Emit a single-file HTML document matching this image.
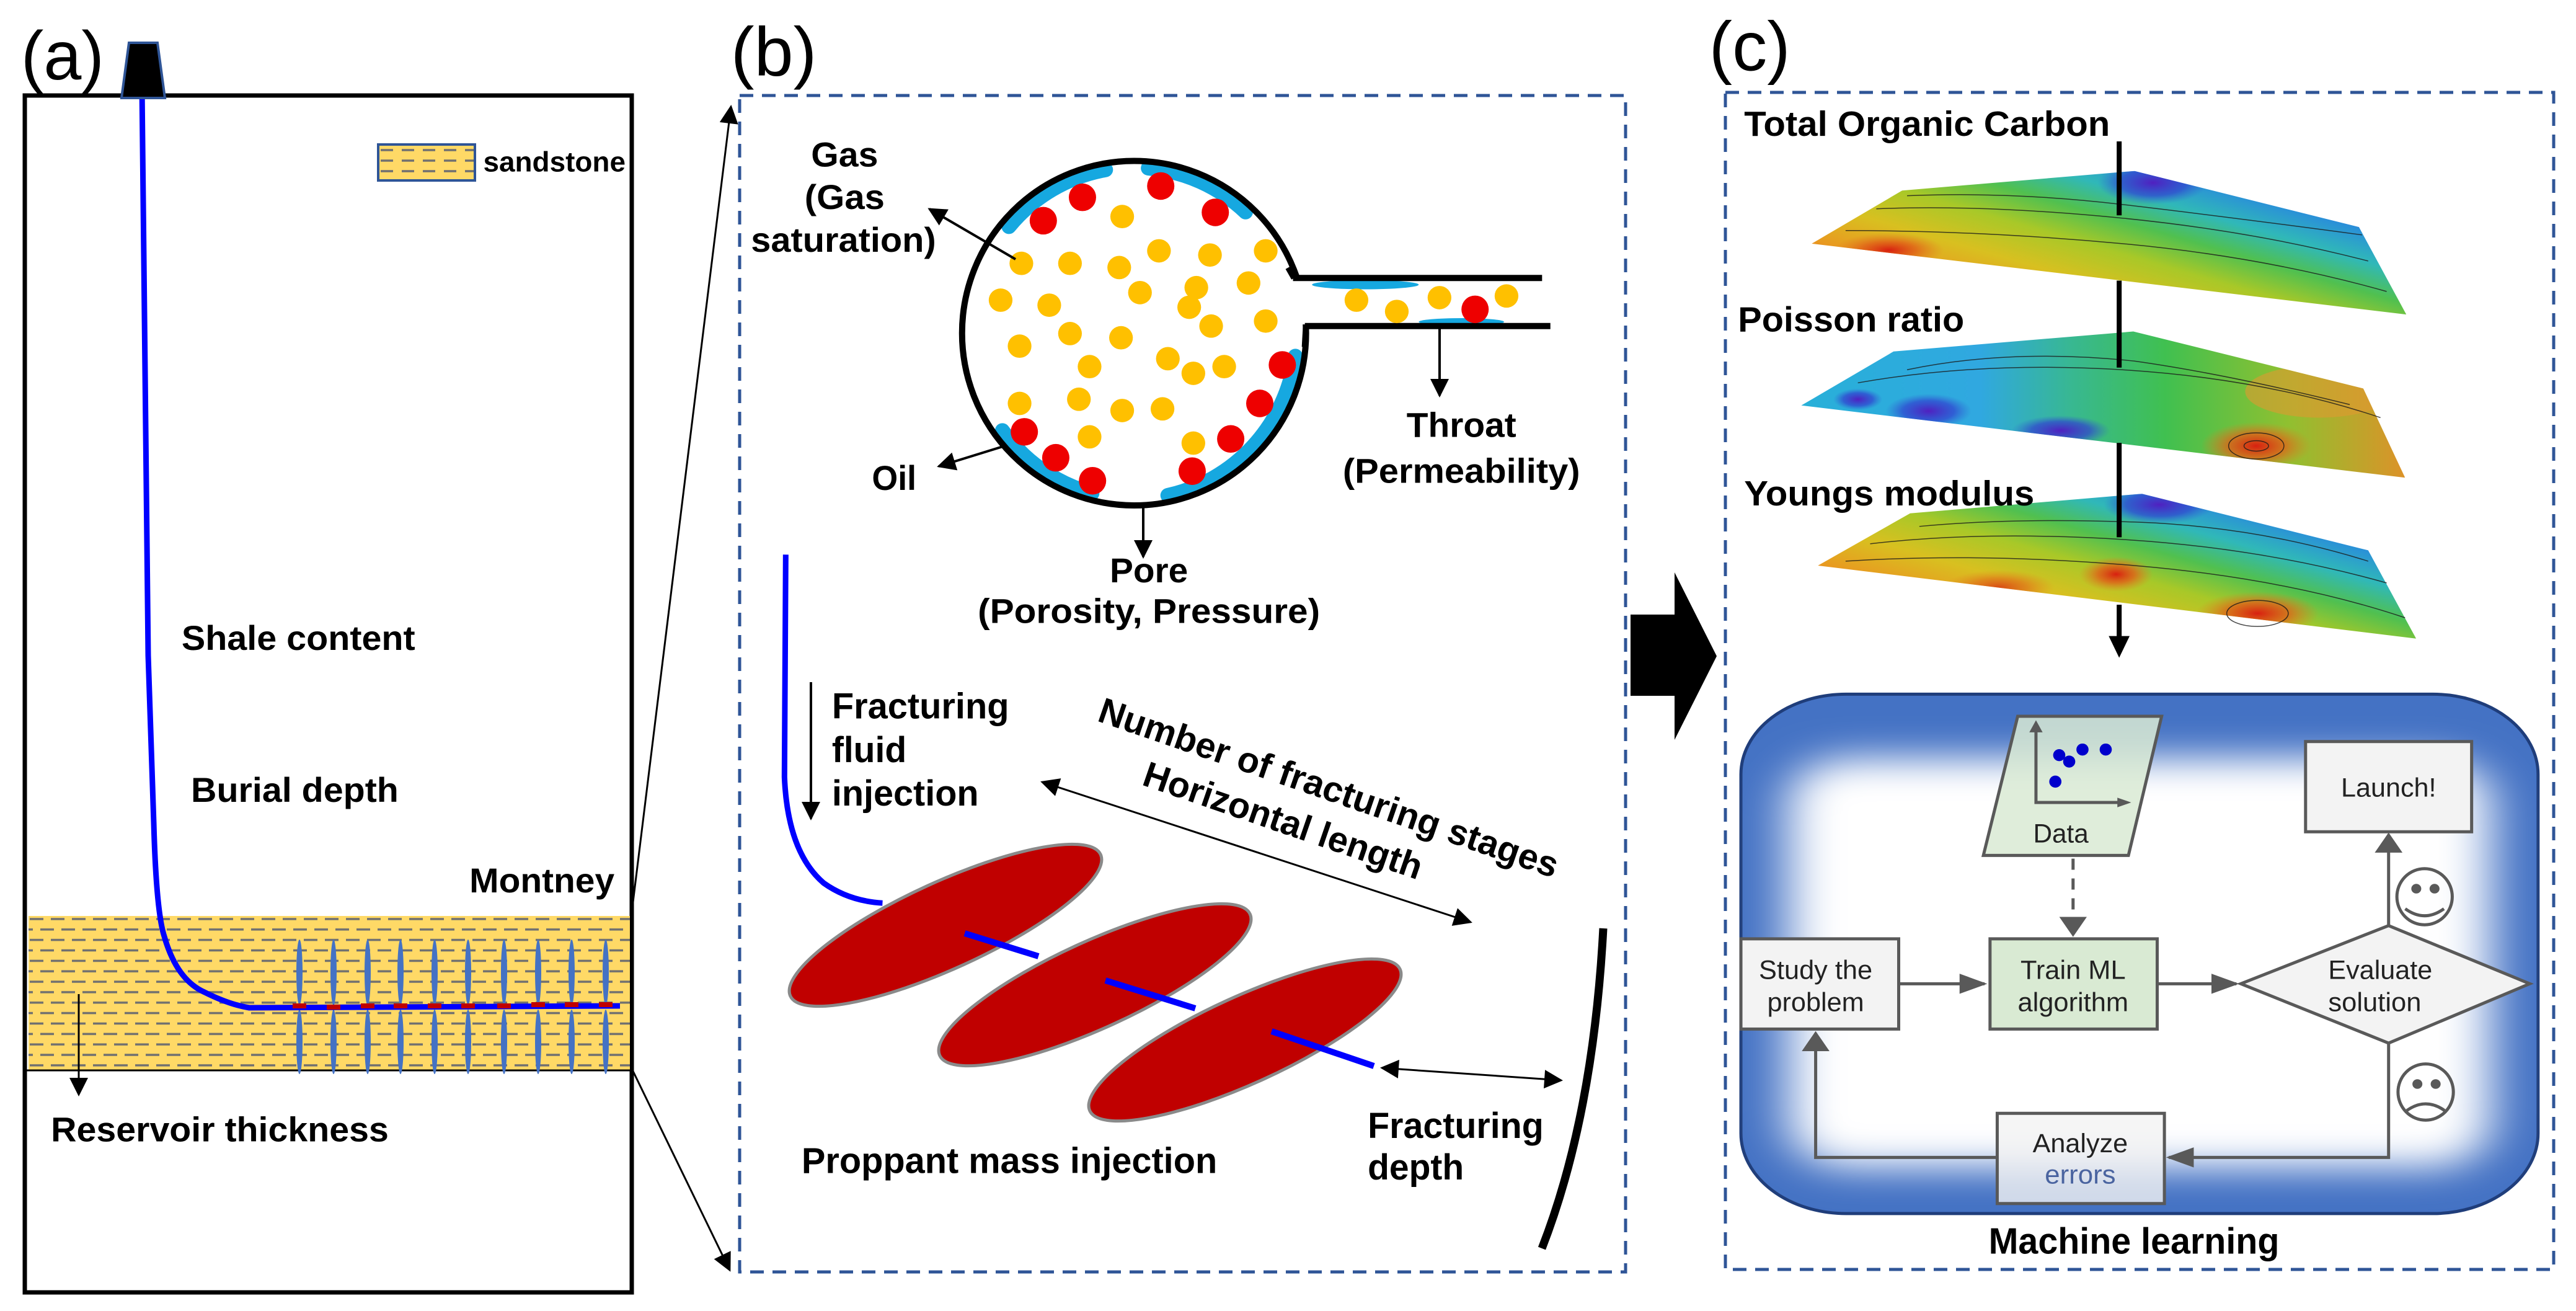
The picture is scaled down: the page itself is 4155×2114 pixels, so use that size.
<!DOCTYPE html>
<html><head><meta charset="utf-8">
<style>
html,body{margin:0;padding:0;background:#fff;}
svg{display:block;}
text{font-family:"Liberation Sans",Arial,sans-serif;}
.b{font-weight:bold;}
</style></head>
<body>
<svg xmlns="http://www.w3.org/2000/svg" width="4155" height="2114" viewBox="0 0 4155 2114">
<defs>
  <marker id="ah" viewBox="0 0 10 10" refX="9" refY="5" markerWidth="42" markerHeight="30" markerUnits="userSpaceOnUse" orient="auto-start-reverse">
    <path d="M0,0 L10,5 L0,10 z" fill="#000"/>
  </marker>
  <marker id="ag" viewBox="0 0 10 10" refX="9" refY="5" markerWidth="50" markerHeight="50" markerUnits="userSpaceOnUse" orient="auto">
    <path d="M0,0 L10,5 L0,10 z" fill="#595959"/>
  </marker>
  <pattern id="sand" patternUnits="userSpaceOnUse" width="34" height="33.7" x="46" y="1477">
    <rect width="34" height="33.7" fill="#ffd966"/>
    <line x1="2" y1="5" x2="24" y2="5" stroke="#707070" stroke-width="3.5"/>
    <line x1="19" y1="21.8" x2="34" y2="21.8" stroke="#707070" stroke-width="3.5"/>
    <line x1="0" y1="21.8" x2="7" y2="21.8" stroke="#707070" stroke-width="3.5"/>
  </pattern>
  <pattern id="sand2" patternUnits="userSpaceOnUse" width="34" height="17" x="612" y="236">
    <rect width="34" height="17" fill="#ffd966"/>
    <line x1="2" y1="6" x2="22" y2="6" stroke="#707070" stroke-width="3.5"/>
  </pattern>
  <linearGradient id="g1" x1="0.1" y1="0.8" x2="0.9" y2="0.1">
    <stop offset="0" stop-color="#e05018"/>
    <stop offset="0.15" stop-color="#e89a20"/>
    <stop offset="0.3" stop-color="#d8c020"/>
    <stop offset="0.45" stop-color="#a8c828"/>
    <stop offset="0.58" stop-color="#50c050"/>
    <stop offset="0.7" stop-color="#30b8b8"/>
    <stop offset="0.82" stop-color="#2a90d8"/>
    <stop offset="0.92" stop-color="#3a50c8"/>
    <stop offset="1" stop-color="#7020b0"/>
  </linearGradient>
  <linearGradient id="g2" x1="0" y1="0.5" x2="1" y2="0.5">
    <stop offset="0" stop-color="#28b0d8"/>
    <stop offset="0.3" stop-color="#30a8e0"/>
    <stop offset="0.45" stop-color="#38b890"/>
    <stop offset="0.6" stop-color="#40c050"/>
    <stop offset="0.8" stop-color="#90c030"/>
    <stop offset="1" stop-color="#e09028"/>
  </linearGradient>
  <radialGradient id="hot"><stop offset="0" stop-color="#d82010"/><stop offset="0.5" stop-color="#e06018" stop-opacity="0.8"/><stop offset="1" stop-color="#e08020" stop-opacity="0"/></radialGradient>
  <radialGradient id="cold"><stop offset="0" stop-color="#5020c0"/><stop offset="0.6" stop-color="#3040d0" stop-opacity="0.7"/><stop offset="1" stop-color="#3060d0" stop-opacity="0"/></radialGradient>
  <filter id="blur" x="-20%" y="-20%" width="140%" height="140%"><feGaussianBlur stdDeviation="45"/></filter>
</defs>
<rect width="4155" height="2114" fill="#fff"/>

<!-- ===== Panel (a) real coords ===== -->
<rect x="40" y="154" width="979" height="1930" fill="none" stroke="#000" stroke-width="7"/>
<rect x="46" y="1477" width="970" height="249" fill="url(#sand)"/>
<line x1="40" y1="1726" x2="1019" y2="1726" stroke="#000" stroke-width="3"/>
<g fill="#4472c4">
  <ellipse cx="483" cy="1568" rx="5" ry="53"/><ellipse cx="483" cy="1680" rx="5" ry="52"/>
  <ellipse cx="538" cy="1568" rx="5" ry="53"/><ellipse cx="538" cy="1680" rx="5" ry="52"/>
  <ellipse cx="593" cy="1568" rx="5" ry="53"/><ellipse cx="593" cy="1680" rx="5" ry="52"/>
  <ellipse cx="646" cy="1568" rx="5" ry="53"/><ellipse cx="646" cy="1680" rx="5" ry="52"/>
  <ellipse cx="701" cy="1568" rx="5" ry="53"/><ellipse cx="701" cy="1680" rx="5" ry="52"/>
  <ellipse cx="755" cy="1568" rx="5" ry="53"/><ellipse cx="755" cy="1680" rx="5" ry="52"/>
  <ellipse cx="813" cy="1568" rx="5" ry="53"/><ellipse cx="813" cy="1680" rx="5" ry="52"/>
  <ellipse cx="868" cy="1568" rx="5" ry="53"/><ellipse cx="868" cy="1680" rx="5" ry="52"/>
  <ellipse cx="922" cy="1568" rx="5" ry="53"/><ellipse cx="922" cy="1680" rx="5" ry="52"/>
  <ellipse cx="977" cy="1568" rx="5" ry="53"/><ellipse cx="977" cy="1680" rx="5" ry="52"/>
</g>
<path d="M229,142 L239,1057 L248,1327 Q252,1470 265,1510 Q285,1580 330,1600 Q370,1620 402,1625 L1000,1622" fill="none" stroke="#0000ff" stroke-width="9"/>
<g fill="#c00000">
  <rect x="472" y="1618" width="22" height="8"/><rect x="527" y="1620" width="22" height="8"/>
  <rect x="582" y="1618" width="22" height="8"/><rect x="635" y="1618" width="22" height="8"/>
  <rect x="690" y="1618" width="22" height="8"/><rect x="744" y="1618" width="22" height="8"/>
  <rect x="802" y="1618" width="22" height="8"/><rect x="857" y="1616" width="22" height="8"/>
  <rect x="911" y="1616" width="22" height="8"/><rect x="966" y="1616" width="22" height="8"/>
</g>
<polygon points="208,69 254,69 266,158 196,158" fill="#000" stroke="#2f5597" stroke-width="4"/>
<rect x="610" y="233" width="156" height="58" fill="url(#sand2)" stroke="#2f5597" stroke-width="4"/>
<line x1="127" y1="1603" x2="127" y2="1765" stroke="#000" stroke-width="3" marker-end="url(#ah)"/>
<line x1="1018" y1="1479" x2="1179" y2="172" stroke="#000" stroke-width="3" marker-end="url(#ah)"/>
<line x1="1018" y1="1721" x2="1177" y2="2048" stroke="#000" stroke-width="3" marker-end="url(#ah)"/>

<g transform="scale(0.8929,0.6741)">
  <text x="38" y="190" font-size="165" textLength="150" lengthAdjust="spacingAndGlyphs">(a)</text>
  <text class="b" x="873" y="410" font-size="67" textLength="257" lengthAdjust="spacingAndGlyphs">sandstone</text>
  <text class="b" x="328" y="1555" font-size="83" textLength="422" lengthAdjust="spacingAndGlyphs">Shale content</text>
</g>
<g transform="translate(0,1057) scale(0.8929,0.6741)">
  <text class="b" x="345" y="350" font-size="83" textLength="375" lengthAdjust="spacingAndGlyphs">Burial depth</text>
  <text class="b" x="848" y="567" font-size="83" textLength="262" lengthAdjust="spacingAndGlyphs">Montney</text>
  <text class="b" x="92" y="1162" font-size="83" textLength="610" lengthAdjust="spacingAndGlyphs">Reservoir thickness</text>
</g>

<!-- ===== Panel (b) ===== -->
<rect x="1193" y="154" width="1429" height="1897" fill="none" stroke="#2f5597" stroke-width="5" stroke-dasharray="22,14"/>
<g transform="translate(1150,0) scale(0.9566,0.6741)">
  <text x="30" y="180" font-size="165" textLength="145" lengthAdjust="spacingAndGlyphs">(b)</text>
  <g fill="none" stroke="#16a8e0" stroke-width="24" stroke-linecap="round">
    <path d="M499,542 A275,397 0 0 1 662,406" vector-effect="non-scaling-stroke"/>
    <path d="M734,402 A275,397 0 0 1 898,507" vector-effect="non-scaling-stroke"/>
    <path d="M639,1180 A275,397 0 0 1 488,1030" vector-effect="non-scaling-stroke"/>
    <path d="M982,852 A275,397 0 0 1 767,1185" vector-effect="non-scaling-stroke"/>
  </g>
  <ellipse cx="1100" cy="681" rx="90" ry="11" fill="#16a8e0"/>
  <ellipse cx="1262" cy="770" rx="72" ry="9" fill="#16a8e0"/>
  <ellipse cx="710" cy="797" rx="290" ry="412" fill="none" stroke="#000" stroke-width="10" vector-effect="non-scaling-stroke"/>
  <rect x="970" y="672" width="40" height="104" fill="#fff"/>
  <g stroke="#000" stroke-width="10">
    <line x1="978" y1="665" x2="1398" y2="665" vector-effect="non-scaling-stroke"/>
    <line x1="998" y1="780" x2="1412" y2="780" vector-effect="non-scaling-stroke"/>
    <line x1="980" y1="665" x2="970" y2="640" vector-effect="non-scaling-stroke"/>
    <line x1="1000" y1="780" x2="998" y2="830" vector-effect="non-scaling-stroke"/>
  </g>
  <g fill="#ffc000">
    <ellipse cx="690" cy="518" rx="20" ry="28"/><ellipse cx="520" cy="630" rx="20" ry="28"/>
    <ellipse cx="602" cy="630" rx="20" ry="28"/><ellipse cx="685" cy="640" rx="20" ry="28"/>
    <ellipse cx="752" cy="600" rx="20" ry="28"/><ellipse cx="838" cy="610" rx="20" ry="28"/>
    <ellipse cx="932" cy="600" rx="20" ry="28"/><ellipse cx="485" cy="718" rx="20" ry="28"/>
    <ellipse cx="567" cy="730" rx="20" ry="28"/><ellipse cx="720" cy="700" rx="20" ry="28"/>
    <ellipse cx="815" cy="688" rx="20" ry="28"/><ellipse cx="803" cy="735" rx="20" ry="28"/>
    <ellipse cx="903" cy="677" rx="20" ry="28"/><ellipse cx="517" cy="828" rx="20" ry="28"/>
    <ellipse cx="602" cy="798" rx="20" ry="28"/><ellipse cx="688" cy="808" rx="20" ry="28"/>
    <ellipse cx="840" cy="780" rx="20" ry="28"/><ellipse cx="932" cy="768" rx="20" ry="28"/>
    <ellipse cx="635" cy="877" rx="20" ry="28"/><ellipse cx="767" cy="858" rx="20" ry="28"/>
    <ellipse cx="810" cy="893" rx="20" ry="28"/><ellipse cx="862" cy="877" rx="20" ry="28"/>
    <ellipse cx="517" cy="965" rx="20" ry="28"/><ellipse cx="617" cy="955" rx="20" ry="28"/>
    <ellipse cx="690" cy="982" rx="20" ry="28"/><ellipse cx="758" cy="978" rx="20" ry="28"/>
    <ellipse cx="635" cy="1045" rx="20" ry="28"/><ellipse cx="810" cy="1060" rx="20" ry="28"/>
    <ellipse cx="1085" cy="718" rx="20" ry="28"/><ellipse cx="1153" cy="745" rx="20" ry="28"/>
    <ellipse cx="1225" cy="712" rx="20" ry="28"/><ellipse cx="1338" cy="708" rx="20" ry="28"/>
  </g>
  <g fill="#ee0000">
    <ellipse cx="623" cy="472" rx="23" ry="33"/><ellipse cx="755" cy="445" rx="23" ry="33"/>
    <ellipse cx="557" cy="528" rx="23" ry="33"/><ellipse cx="847" cy="508" rx="23" ry="33"/>
    <ellipse cx="960" cy="873" rx="23" ry="33"/><ellipse cx="922" cy="965" rx="23" ry="33"/>
    <ellipse cx="525" cy="1033" rx="23" ry="33"/><ellipse cx="873" cy="1050" rx="23" ry="33"/>
    <ellipse cx="578" cy="1095" rx="23" ry="33"/><ellipse cx="640" cy="1150" rx="23" ry="33"/>
    <ellipse cx="808" cy="1127" rx="23" ry="33"/><ellipse cx="1285" cy="740" rx="23" ry="33"/>
  </g>
  <text class="b" x="222" y="398" font-size="83" text-anchor="middle" textLength="113" lengthAdjust="spacingAndGlyphs">Gas</text>
  <text class="b" x="222" y="500" font-size="83" text-anchor="middle" textLength="135" lengthAdjust="spacingAndGlyphs">(Gas</text>
  <text class="b" x="220" y="602" font-size="83" text-anchor="middle" textLength="312" lengthAdjust="spacingAndGlyphs">saturation)</text>
  <text class="b" x="268" y="1172" font-size="83" textLength="75" lengthAdjust="spacingAndGlyphs">Oil</text>
  <text class="b" x="1262" y="1045" font-size="83" text-anchor="middle" textLength="185" lengthAdjust="spacingAndGlyphs">Throat</text>
  <text class="b" x="1262" y="1155" font-size="83" text-anchor="middle" textLength="400" lengthAdjust="spacingAndGlyphs">(Permeability)</text>
  <text class="b" x="735" y="1393" font-size="83" text-anchor="middle" textLength="132" lengthAdjust="spacingAndGlyphs">Pore</text>
  <text class="b" x="735" y="1490" font-size="83" text-anchor="middle" textLength="577" lengthAdjust="spacingAndGlyphs">(Porosity, Pressure)</text>
</g>
<line x1="1638" y1="418" x2="1499" y2="337" stroke="#000" stroke-width="4" marker-end="url(#ah)"/>
<line x1="1624" y1="718" x2="1514" y2="752" stroke="#000" stroke-width="4" marker-end="url(#ah)"/>
<line x1="1844" y1="816" x2="1844" y2="898" stroke="#000" stroke-width="4" marker-end="url(#ah)"/>
<line x1="2322" y1="526" x2="2322" y2="638" stroke="#000" stroke-width="4" marker-end="url(#ah)"/>

<g transform="translate(1150,850) scale(1.0204,0.8061)">
  <path d="M115,55 L113,500 Q118,650 175,712 Q215,748 268,752" fill="none" stroke="#0000ff" stroke-width="9" vector-effect="non-scaling-stroke"/>
  <text class="b" x="188" y="383" font-size="72" textLength="280" lengthAdjust="spacingAndGlyphs">Fracturing</text>
  <text class="b" x="188" y="470" font-size="72" textLength="118" lengthAdjust="spacingAndGlyphs">fluid</text>
  <text class="b" x="188" y="557" font-size="72" textLength="232" lengthAdjust="spacingAndGlyphs">injection</text>
  <text class="b" x="140" y="1292" font-size="72" textLength="657" lengthAdjust="spacingAndGlyphs">Proppant mass injection</text>
  <text class="b" x="1035" y="1222" font-size="72" textLength="278" lengthAdjust="spacingAndGlyphs">Fracturing</text>
  <text class="b" x="1035" y="1305" font-size="72" textLength="152" lengthAdjust="spacingAndGlyphs">depth</text>
</g>
<g fill="#c00000" stroke="#8a8a8a" stroke-width="5">
  <ellipse cx="1525" cy="1492" rx="275" ry="70" transform="rotate(-24.5 1525 1492)"/>
  <ellipse cx="1766" cy="1588" rx="275" ry="70" transform="rotate(-24.5 1766 1588)"/>
  <ellipse cx="2008" cy="1677" rx="275" ry="70" transform="rotate(-24.5 2008 1677)"/>
</g>
<g stroke="#0000ff" stroke-width="10">
  <line x1="1556" y1="1505" x2="1675" y2="1542"/>
  <line x1="1783" y1="1581" x2="1928" y2="1626"/>
  <line x1="2051" y1="1663" x2="2216" y2="1719"/>
</g>
<line x1="1308" y1="1100" x2="1308" y2="1320" stroke="#000" stroke-width="4" marker-end="url(#ah)"/>
<line x1="1681" y1="1261" x2="2372" y2="1487" stroke="#000" stroke-width="3" marker-start="url(#ah)" marker-end="url(#ah)"/>
<line x1="2229" y1="1722" x2="2518" y2="1742" stroke="#000" stroke-width="3" marker-start="url(#ah)" marker-end="url(#ah)"/>
<path d="M2586,1497 Q2570,1800 2487,2013" fill="none" stroke="#000" stroke-width="13"/>
<text class="b" x="1768" y="1162" font-size="58" textLength="780" lengthAdjust="spacingAndGlyphs" transform="rotate(19 1768 1162)">Number of fracturing stages</text>
<text class="b" x="1840" y="1265" font-size="58" textLength="472" lengthAdjust="spacingAndGlyphs" transform="rotate(19 1840 1265)">Horizontal length</text>

<polygon points="2630,991 2701,991 2701,923 2769,1058 2701,1193 2701,1122 2630,1122" fill="#000"/>

<!-- ===== Panel (c) ===== -->
<rect x="2783" y="149" width="1336" height="1898" fill="none" stroke="#2f5597" stroke-width="5" stroke-dasharray="22,14"/>
<g transform="translate(2600,0) scale(0.9917,0.7015)">
  <text x="158" y="162" font-size="160" textLength="132" lengthAdjust="spacingAndGlyphs">(c)</text>
  <clipPath id="c1"><polygon points="325,560 472,438 850,393 1215,522 1292,723"/></clipPath>
  <clipPath id="c2"><polygon points="308,932 458,808 848,762 1222,893 1290,1098"/></clipPath>
  <clipPath id="c3"><polygon points="335,1300 485,1180 862,1135 1230,1265 1308,1468"/></clipPath>
  <g clip-path="url(#c1)">
    <rect x="300" y="380" width="1000" height="360" fill="url(#g1)"/>
    <ellipse cx="450" cy="575" rx="90" ry="40" fill="url(#hot)"/>
    <ellipse cx="880" cy="420" rx="90" ry="50" fill="url(#cold)"/>
  </g>
  <g clip-path="url(#c2)">
    <rect x="300" y="750" width="1000" height="360" fill="url(#g2)"/>
    <ellipse cx="400" cy="918" rx="40" ry="25" fill="url(#cold)"/>
    <ellipse cx="515" cy="945" rx="70" ry="40" fill="url(#cold)"/>
    <ellipse cx="730" cy="990" rx="80" ry="35" fill="url(#cold)"/>
    <ellipse cx="1048" cy="1025" rx="90" ry="55" fill="url(#hot)"/>
    <ellipse cx="1150" cy="900" rx="120" ry="60" fill="#e09a30" opacity="0.6"/>
  </g>
  <g clip-path="url(#c3)">
    <rect x="300" y="1120" width="1020" height="360" fill="url(#g1)"/>
    <ellipse cx="820" cy="1320" rx="60" ry="40" fill="url(#hot)"/>
    <ellipse cx="1050" cy="1410" rx="100" ry="50" fill="url(#hot)"/>
    <ellipse cx="630" cy="1350" rx="90" ry="40" fill="url(#hot)" opacity="0.7"/>
    <ellipse cx="890" cy="1160" rx="90" ry="45" fill="url(#cold)"/>
  </g>
  <g fill="none" stroke="#1a1a1a" stroke-width="1.5" opacity="0.8">
    <path d="M430,480 Q600,470 820,500 T1230,600" vector-effect="non-scaling-stroke"/>
    <path d="M380,530 Q600,530 830,560 T1260,670" vector-effect="non-scaling-stroke"/>
    <path d="M480,450 Q650,440 830,470 T1220,540" vector-effect="non-scaling-stroke"/>
    <path d="M400,880 Q600,830 830,850 T1250,960" vector-effect="non-scaling-stroke"/>
    <path d="M480,850 Q650,800 850,830 Q1000,860 1200,930" vector-effect="non-scaling-stroke"/>
    <ellipse cx="1048" cy="1025" rx="45" ry="30" vector-effect="non-scaling-stroke"/>
    <ellipse cx="1048" cy="1025" rx="20" ry="12" vector-effect="non-scaling-stroke"/>
    <path d="M420,1250 Q600,1220 830,1240 T1260,1340" vector-effect="non-scaling-stroke"/>
    <path d="M380,1290 Q600,1270 850,1300 T1290,1420" vector-effect="non-scaling-stroke"/>
    <path d="M500,1210 Q650,1190 850,1200 T1230,1290" vector-effect="non-scaling-stroke"/>
    <ellipse cx="1050" cy="1410" rx="50" ry="30" vector-effect="non-scaling-stroke"/>
  </g>
  <g stroke="#000" stroke-width="8">
    <line x1="825" y1="325" x2="825" y2="495" vector-effect="non-scaling-stroke"/>
    <line x1="825" y1="645" x2="825" y2="845" vector-effect="non-scaling-stroke"/>
    <line x1="825" y1="1018" x2="825" y2="1235" vector-effect="non-scaling-stroke"/>
    <line x1="825" y1="1390" x2="825" y2="1470" vector-effect="non-scaling-stroke"/>
  </g>
  <polygon points="808,1462 842,1462 825,1512" fill="#000"/>
  <text class="b" x="215" y="312" font-size="81" textLength="595" lengthAdjust="spacingAndGlyphs">Total Organic Carbon</text>
  <text class="b" x="205" y="762" font-size="81" textLength="368" lengthAdjust="spacingAndGlyphs">Poisson ratio</text>
  <text class="b" x="215" y="1162" font-size="81" textLength="472" lengthAdjust="spacingAndGlyphs">Youngs modulus</text>
</g>

<g transform="translate(2750,1100) scale(0.8929,0.6467)">
  <rect x="65" y="30" width="1440" height="1295" rx="190" ry="200" fill="#4472c4" stroke="#1f3d7a" stroke-width="5" vector-effect="non-scaling-stroke"/>
  <rect x="150" y="190" width="1270" height="1020" rx="110" ry="110" fill="#fff" filter="url(#blur)"/>
  <g stroke="#595959" stroke-width="5">
    <polygon points="565,85 825,85 765,432 503,432" fill="#d9ead3" fill-opacity="0.85" vector-effect="non-scaling-stroke"/>
    <rect x="65" y="640" width="285" height="225" fill="#f3f3f3" vector-effect="non-scaling-stroke"/>
    <rect x="515" y="640" width="302" height="225" fill="#d9ead3" vector-effect="non-scaling-stroke"/>
    <polygon points="968,752 1235,607 1490,752 1235,900" fill="#f3f3f3" vector-effect="non-scaling-stroke"/>
    <rect x="1085" y="148" width="300" height="225" fill="#f3f3f3" vector-effect="non-scaling-stroke"/>
    <rect x="528" y="1075" width="302" height="225" fill="#f3f3f3" fill-opacity="0.8" vector-effect="non-scaling-stroke"/>
    <line x1="350" y1="752" x2="505" y2="752" marker-end="url(#ag)" vector-effect="non-scaling-stroke"/>
    <line x1="817" y1="752" x2="960" y2="752" marker-end="url(#ag)" vector-effect="non-scaling-stroke"/>
    <line x1="1235" y1="607" x2="1235" y2="380" marker-end="url(#ag)" vector-effect="non-scaling-stroke"/>
    <polyline points="1235,900 1235,1185 838,1185" fill="none" marker-end="url(#ag)" vector-effect="non-scaling-stroke"/>
    <polyline points="528,1185 200,1185 200,875" fill="none" marker-end="url(#ag)" vector-effect="non-scaling-stroke"/>
    <line x1="665" y1="440" x2="665" y2="630" stroke-dasharray="18,14" marker-end="url(#ag)" vector-effect="non-scaling-stroke"/>
    <polyline points="598,115 598,300 750,300" fill="none" vector-effect="non-scaling-stroke"/>
    <ellipse cx="1300" cy="535" rx="50" ry="70" fill="none" vector-effect="non-scaling-stroke"/>
    <ellipse cx="1302" cy="1022" rx="50" ry="70" fill="none" vector-effect="non-scaling-stroke"/>
    <path d="M1265,565 Q1300,600 1335,565" fill="none" vector-effect="non-scaling-stroke"/>
    <path d="M1268,1068 Q1302,1035 1336,1068" fill="none" vector-effect="non-scaling-stroke"/>
  </g>
  <polygon points="586,125 610,125 598,95" fill="#595959"/>
  <polygon points="745,288 745,312 770,300" fill="#595959"/>
  <g fill="#595959">
    <ellipse cx="1285" cy="515" rx="9" ry="12"/><ellipse cx="1318" cy="515" rx="9" ry="12"/>
    <ellipse cx="1287" cy="1002" rx="9" ry="12"/><ellipse cx="1320" cy="1002" rx="9" ry="12"/>
  </g>
  <g fill="#0000cc">
    <ellipse cx="640" cy="182" rx="11" ry="15"/><ellipse cx="658" cy="198" rx="11" ry="15"/>
    <ellipse cx="682" cy="168" rx="11" ry="15"/><ellipse cx="724" cy="168" rx="11" ry="15"/>
    <ellipse cx="633" cy="248" rx="11" ry="15"/>
  </g>
  <g font-size="66" fill="#222" text-anchor="middle">
    <text x="643" y="400" textLength="100" lengthAdjust="spacingAndGlyphs">Data</text>
    <text x="200" y="740" textLength="205" lengthAdjust="spacingAndGlyphs">Study the</text>
    <text x="200" y="820" textLength="175" lengthAdjust="spacingAndGlyphs">problem</text>
    <text x="665" y="740" textLength="190" lengthAdjust="spacingAndGlyphs">Train ML</text>
    <text x="665" y="820" textLength="200" lengthAdjust="spacingAndGlyphs">algorithm</text>
    <text x="1220" y="740" textLength="188" lengthAdjust="spacingAndGlyphs">Evaluate</text>
    <text x="1210" y="820" textLength="168" lengthAdjust="spacingAndGlyphs">solution</text>
    <text x="1235" y="285" textLength="172" lengthAdjust="spacingAndGlyphs">Launch!</text>
    <text x="678" y="1172" textLength="172" lengthAdjust="spacingAndGlyphs">Analyze</text>
    <text x="678" y="1250" textLength="128" lengthAdjust="spacingAndGlyphs" fill="#4a64a0">errors</text>
  </g>
  <text class="b" x="775" y="1425" font-size="92" text-anchor="middle" textLength="525" lengthAdjust="spacingAndGlyphs">Machine learning</text>
</g>
</svg>
</body></html>
